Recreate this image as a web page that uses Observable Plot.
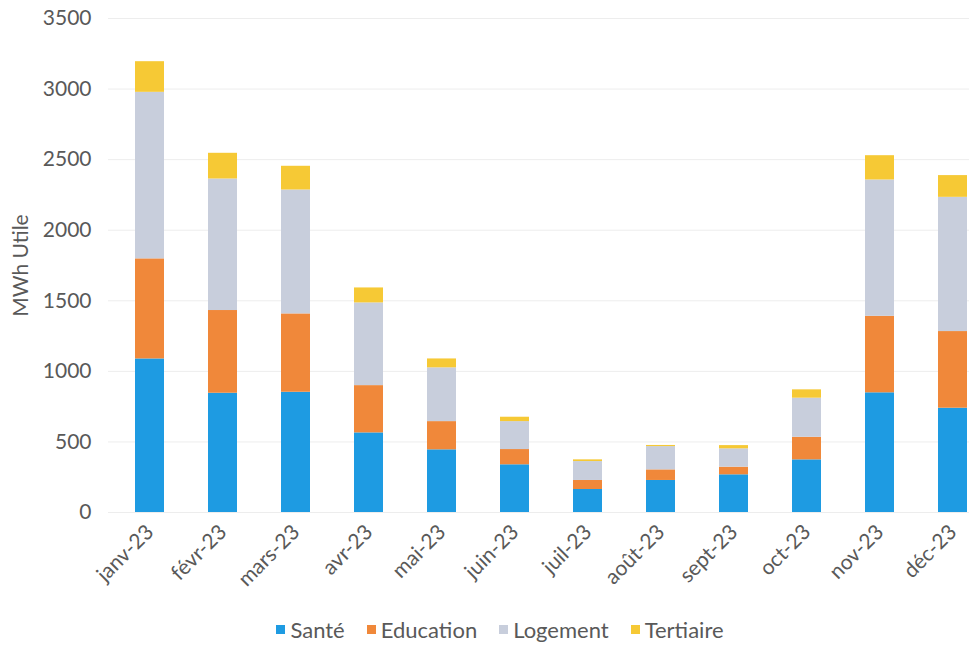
<!DOCTYPE html>
<html>
<head>
<meta charset="utf-8">
<script src="https://cdn.jsdelivr.net/npm/d3@7"></script>
<script src="https://cdn.jsdelivr.net/npm/@observablehq/plot@0.6"></script>
<style>
  html, body { margin: 0; padding: 0; background: #fff; overflow: hidden; }
  #wrap { width: 1010px; font-family: Lato, "Open Sans", sans-serif; color: #595959; }
  #wrap svg { max-width: none !important; }
  #legend { display: flex; justify-content: center; align-items: center; height: 30px; font-size: 22px; padding-top: 14px; padding-right: 10px; }
  .item { display: inline-flex; align-items: center; margin: 0 11px; }
  .sw { width: 9px; height: 9px; margin-right: 5px; display: inline-block; }
</style>
</head>
<body>
<div id="wrap"></div>
<script>
const months = ["janv-23","févr-23","mars-23","avr-23","mai-23","juin-23","juil-23","août-23","sept-23","oct-23","nov-23","déc-23"];
const series = ["Santé","Education","Logement","Tertiaire"];
const colors = ["#1e9be2","#f0883a","#c8cedc","#f6c935"];
const sante     = [1088, 845, 852, 564, 444, 338, 163, 227, 267, 373, 848, 739];
const education = [ 709, 586, 555, 335, 200, 108,  64,  75,  54, 160, 542, 543];
const logement  = [1180, 932, 878, 586, 381, 198, 134, 165, 130, 277, 966, 951];
const tertiaire = [ 217, 182, 168, 106,  63,  31,  12,   8,  23,  59, 172, 154];
const yTicks = [0, 500, 1000, 1500, 2000, 2500, 3000, 3500];

const seriesValues = [sante, education, logement, tertiaire];
const data = months.flatMap((m, i) => series.map((s, j) => ({month: m, serie: s, value: seriesValues[j][i]})));

const plot = Plot.plot({
  width: 1010,
  height: 600,
  marginTop: 18,
  marginBottom: 88,
  marginLeft: 108,
  marginRight: 15,
  style: {fontFamily: "Lato, 'Open Sans', sans-serif", color: "#595959", background: "#fff"},
  x: {domain: months, paddingInner: 0.6, paddingOuter: 0.3},
  y: {domain: [0, 3500]},
  color: {domain: series, range: colors},
  marks: [
    Plot.ruleY(yTicks, {stroke: "#ededed", strokeWidth: 1}),
    Plot.barY(data, {x: "month", y: "value", fill: "serie"}),
    Plot.axisY({ticks: yTicks, tickSize: 0, tickPadding: 17, fontSize: 21, tickFormat: d => String(d),
      label: "MWh Utile", labelAnchor: "center", labelOffset: 95, labelArrow: "none"}),
    Plot.axisX({tickSize: 0, tickPadding: 16, tickRotate: -45, fontSize: 21, label: null})
  ]
});

const wrap = document.getElementById("wrap");
wrap.appendChild(plot);
const legend = document.createElement("div");
legend.id = "legend";
series.forEach((s, i) => {
  const item = document.createElement("span");
  item.className = "item";
  const sw = document.createElement("span");
  sw.className = "sw";
  sw.style.background = colors[i];
  item.appendChild(sw);
  item.appendChild(document.createTextNode(s));
  legend.appendChild(item);
});
wrap.appendChild(legend);
</script>
</body>
</html>
